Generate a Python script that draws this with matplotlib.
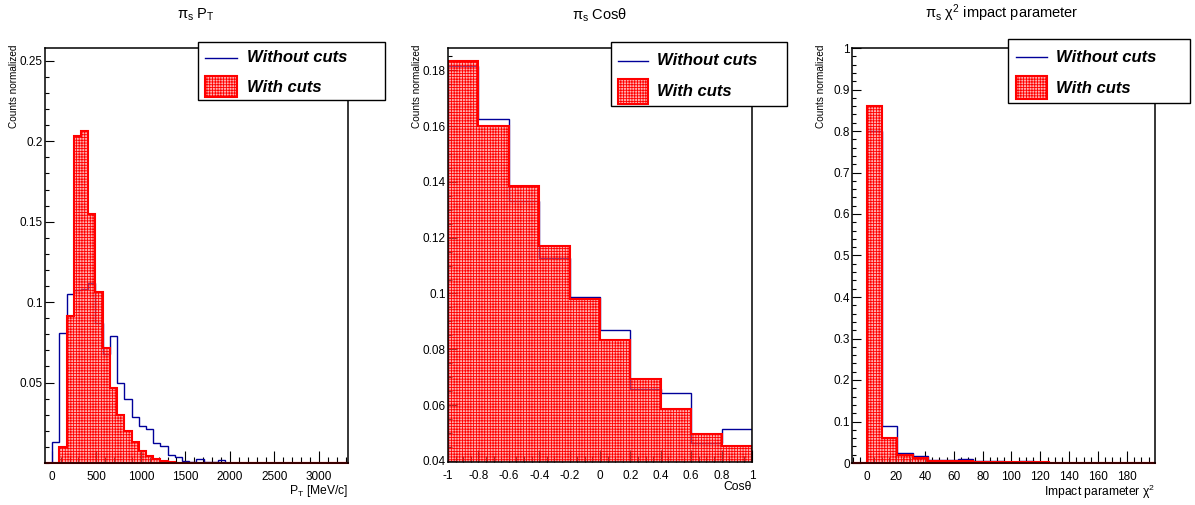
import numpy as np
import matplotlib
matplotlib.use("Agg")
import matplotlib.pyplot as plt
from matplotlib.patches import Rectangle
from matplotlib.lines import Line2D
from matplotlib.ticker import MultipleLocator, FixedLocator, FuncFormatter

plt.rcParams["font.family"] = ["Liberation Sans", "DejaVu Sans"]
plt.rcParams["mathtext.fontset"] = "custom"
plt.rcParams["mathtext.rm"] = "Liberation Sans"
plt.rcParams["mathtext.it"] = "Liberation Sans:italic"
plt.rcParams["mathtext.bf"] = "Liberation Sans:bold"
plt.rcParams["hatch.linewidth"] = 0.6

# ---- pi_s transverse momentum [MeV/c] ----
pt_edges = np.linspace(-75, 3325, 43)
pt_without = [0, 0.013, 0.081, 0.105, 0.1075, 0.108, 0.1116, 0.087, 0.068, 0.079,
              0.0497, 0.0398, 0.0286, 0.0228, 0.0213, 0.0124, 0.0108, 0.0048, 0.004, 0.0014,
              0.0004, 0.0025, 0.0004, 0.0004, 0.0019, 0.0003, 0.0002, 0.0002, 0, 0,
              0, 0, 0, 0, 0, 0, 0, 0, 0, 0, 0, 0]
pt_with = [0, 0, 0.0099, 0.0915, 0.203, 0.2064, 0.1547, 0.106, 0.0714, 0.0466,
           0.030, 0.0197, 0.0128, 0.0077, 0.0041, 0.0027, 0.0012, 0.0004, 0, 0,
           0, 0, 0, 0, 0, 0, 0, 0, 0, 0,
           0, 0, 0, 0, 0, 0, 0, 0, 0, 0, 0, 0]

# ---- pi_s cos(theta) ----
cos_edges = np.linspace(-1, 1, 11)
cos_without = [0.1814, 0.1626, 0.1333, 0.1128, 0.0986, 0.0868, 0.0658, 0.0644, 0.0464, 0.0513]
cos_with = [0.1832, 0.1600, 0.1387, 0.1172, 0.0980, 0.0834, 0.0694, 0.0586, 0.0498, 0.0452]

# ---- pi_s impact parameter chi2 ----
ip_edges = np.linspace(-10.5, 199.5, 21)
ip_without = [0, 0.80, 0.089, 0.023, 0.017, 0.008, 0.0072, 0.0088, 0.004, 0.004,
              0.0024, 0.0056, 0.0015, 0.001, 0.001, 0.001, 0.0008, 0.0008, 0.0005, 0.0005]
ip_with = [0, 0.86, 0.061, 0.020, 0.012, 0.0056, 0.005, 0.005, 0.003, 0.003,
           0.002, 0.002, 0.0015, 0.001, 0.001, 0.001, 0.0008, 0.0005, 0.0005, 0.0005]

titles = [r"π$_{\mathrm{s}}$ P$_{\mathrm{T}}$", r"π$_{\mathrm{s}}$ Cosθ",
          r"π$_{\mathrm{s}}$ χ$^{2}$ impact parameter"]
xlabels = [r"P$_{\mathrm{T}}$ [MeV/c]", "Cosθ", r"Impact parameter χ$^{2}$"]
ylabel = "Counts normalized"
legend_labels = ["Without cuts", "With cuts"]

W, H = 1195, 505
fig = plt.figure(figsize=(W / 100, H / 100), dpi=100)


def fx(x):
    return x / W


def fy(y):
    return 1 - y / H


def make_axes(left, top, right, bottom):
    return fig.add_axes([fx(left), fy(bottom), (right - left) / W, (bottom - top) / H])


BLUE = "#000099"
RED = "#ff0000"
FILL = (1.0, 0.45, 0.45, 0.55)


def _tick_text(v, pos):
    if abs(v) < 1e-9:
        return "0"
    return "%g" % round(v, 6)


fmt = FuncFormatter(_tick_text)


def draw(ax, edges, without, with_, zero_line=True):
    ax.stairs(without, edges, color=BLUE, lw=1.0, zorder=2)
    ax.stairs(with_, edges, fill=True, facecolor=FILL,
              edgecolor=RED, hatch="++++++", lw=1.5, zorder=3)
    if zero_line:
        ax.axhline(0, color=RED, lw=1.5, zorder=3, clip_on=False)
    for s in ax.spines.values():
        s.set_linewidth(1.1)
        s.set_zorder(4)
    ax.tick_params(which="both", direction="in", top=False, right=False,
                   labelsize=8.5, width=0.8)
    ax.tick_params(axis="x", which="major", length=8.6, pad=5.5)
    ax.tick_params(axis="x", which="minor", length=4.3)
    ax.tick_params(axis="y", which="major", length=6.5, pad=1.5)
    ax.tick_params(axis="y", which="minor", length=3.2)
    ax.xaxis.set_major_formatter(fmt)
    ax.yaxis.set_major_formatter(fmt)


def legend(x0, y0, x1, y1, sx0, sx1, y_line, rb0, rb1, tx, ty1, ty2):
    shadow = Rectangle((fx(x0 + 1.2), fy(y1 + 1.2)), (x1 - x0) / W, (y1 - y0) / H,
                       transform=fig.transFigure, facecolor="black", edgecolor="none",
                       zorder=5)
    box = Rectangle((fx(x0), fy(y1)), (x1 - x0) / W, (y1 - y0) / H,
                    transform=fig.transFigure, facecolor="white", edgecolor="black",
                    lw=1.0, zorder=6)
    fig.add_artist(shadow)
    fig.add_artist(box)
    fig.add_artist(Line2D([fx(sx0), fx(sx1)], [fy(y_line), fy(y_line)],
                          transform=fig.transFigure, color=BLUE, lw=1.0, zorder=7))
    fig.add_artist(Rectangle((fx(sx0), fy(rb1)), (sx1 - sx0) / W, (rb1 - rb0) / H,
                             transform=fig.transFigure, facecolor=FILL,
                             edgecolor=RED, hatch="++++++", lw=1.5, zorder=7))
    for label, ty in zip(legend_labels, (ty1, ty2)):
        fig.text(fx(tx), fy(ty), label, fontsize=12, fontweight="bold",
                 fontstyle="italic", va="center", ha="left", zorder=8)


# Panel 1: transverse momentum
ax1 = make_axes(45, 48, 348, 463)
draw(ax1, pt_edges, pt_without, pt_with)
ax1.set_xlim(pt_edges[0], pt_edges[-1])
ax1.set_ylim(0, 0.258)
ax1.xaxis.set_major_locator(MultipleLocator(500))
ax1.xaxis.set_minor_locator(MultipleLocator(100))
ax1.yaxis.set_major_locator(FixedLocator([0.05, 0.1, 0.15, 0.2, 0.25]))
ax1.yaxis.set_minor_locator(MultipleLocator(0.01))

# Panel 2: cos(theta)
ax2 = make_axes(448, 48, 752, 462)
draw(ax2, cos_edges, cos_without, cos_with, zero_line=False)
ax2.set_xlim(-1, 1)
ax2.set_ylim(0.0396, 0.188)
ax2.xaxis.set_major_locator(MultipleLocator(0.2))
ax2.xaxis.set_minor_locator(MultipleLocator(0.05))
ax2.yaxis.set_major_locator(MultipleLocator(0.02))
ax2.yaxis.set_minor_locator(MultipleLocator(0.005))

# Panel 3: impact parameter chi2
ax3 = make_axes(852, 48, 1155, 463)
draw(ax3, ip_edges, ip_without, ip_with)
ax3.set_xlim(ip_edges[0], ip_edges[-1])
ax3.set_ylim(0, 1.0)
ax3.xaxis.set_major_locator(FixedLocator(np.arange(0, 181, 20)))
ax3.xaxis.set_minor_locator(MultipleLocator(5))
ax3.yaxis.set_major_locator(MultipleLocator(0.1))
ax3.yaxis.set_minor_locator(MultipleLocator(0.02))

for ax, xl in zip([ax1, ax2, ax3], xlabels):
    ax.set_xlabel(xl, fontsize=8.7, loc="right")
    ax.xaxis.set_label_coords(1.0, -0.047)
    ax.xaxis.label.set_va("top")
    ax.set_ylabel(ylabel, fontsize=7.2, loc="top")
    ax.yaxis.set_label_coords(-26 / 303, 1.008)

# Titles
fig.text(fx(196), fy(15), titles[0], fontsize=10.5, ha="center", va="center")
fig.text(fx(600), fy(15), titles[1], fontsize=10.5, ha="center", va="center")
fig.text(fx(1002), fy(13), titles[2], fontsize=10.5, ha="center", va="center")

# Legends
legend(198, 42, 385, 100, 205, 237, 58, 76, 97, 247, 58, 88)
legend(611, 42, 787, 106, 618, 648, 60.7, 79, 104, 657, 60.7, 91.7)
legend(1008, 39, 1190, 103, 1016, 1047, 57.3, 76, 99, 1056, 57.3, 88.3)

fig.savefig("out.png", dpi=100)
